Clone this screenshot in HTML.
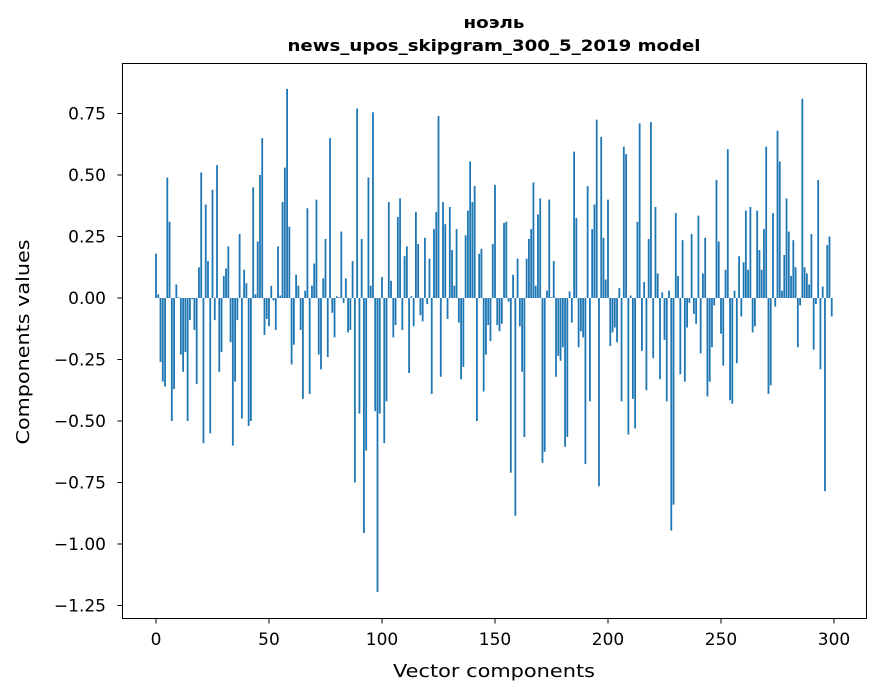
<!DOCTYPE html>
<html><head><meta charset="utf-8">
<style>
html,body{margin:0;padding:0;background:#fff;}
svg{display:block;font-family:"DejaVu Sans","Liberation Sans",sans-serif;}
</style></head>
<body>
<svg id="chart" width="880" height="696" viewBox="0 0 880 696">
  <rect x="0" y="0" width="880" height="696" fill="#fff"/>
  <text x="494" y="28" text-anchor="middle" font-size="16" font-weight="bold" textLength="61" lengthAdjust="spacingAndGlyphs">ноэль</text>
  <text x="494" y="51" text-anchor="middle" font-size="16" font-weight="bold" textLength="413" lengthAdjust="spacingAndGlyphs">news_upos_skipgram_300_5_2019 model</text>
  <g id="bars"></g>
  <g id="xaxis"></g>
  <g id="yaxis"></g>
  <rect x="122.5" y="63.5" width="744" height="555" fill="none" stroke="#000" stroke-width="1"/>
  <text x="494" y="677" text-anchor="middle" font-size="18" textLength="202" lengthAdjust="spacingAndGlyphs">Vector components</text>
  <text x="0" y="0" transform="translate(29,342) rotate(-90)" text-anchor="middle" font-size="18" textLength="205" lengthAdjust="spacingAndGlyphs">Components values</text>
</svg>
<script>
const values = [
0.18,0.015,-0.26,-0.34,-0.36,0.49,0.31,-0.50,-0.37,0.055,
0.003,-0.23,-0.30,-0.22,-0.50,-0.09,-0.005,-0.13,-0.35,0.125,
0.51,-0.59,0.38,0.15,-0.55,0.44,-0.09,0.54,-0.30,-0.22,
0.09,0.12,0.21,-0.18,-0.60,-0.34,-0.09,0.26,-0.49,0.115,
0.06,-0.52,-0.50,0.45,0.015,0.23,0.50,0.65,-0.15,-0.085,
-0.115,0.05,-0.01,-0.13,0.21,0.01,0.39,0.53,0.85,0.29,
-0.27,-0.19,0.095,0.05,-0.13,-0.41,0.03,0.365,-0.39,0.05,
0.14,0.40,-0.23,-0.29,0.08,0.24,-0.24,0.65,-0.06,-0.16,
0.007,0.003,0.27,-0.02,0.08,-0.14,-0.13,0.15,-0.75,0.77,
-0.47,0.24,-0.955,-0.62,0.49,0.05,0.755,-0.46,-1.195,-0.47,
0.085,-0.59,-0.42,0.39,0.07,-0.16,-0.11,0.33,0.405,-0.13,
0.17,0.21,-0.305,0.007,-0.115,0.35,0.22,-0.07,-0.095,0.245,
-0.025,0.16,-0.39,0.28,0.35,0.74,-0.32,0.39,0.30,-0.085,
0.37,0.195,0.05,0.28,-0.10,-0.33,-0.28,0.255,0.355,0.555,
0.39,0.455,-0.50,0.18,0.20,-0.38,-0.23,-0.11,-0.175,0.22,
0.46,-0.11,-0.135,-0.105,0.305,0.31,-0.015,-0.71,0.095,-0.885,
0.16,-0.115,-0.30,-0.565,0.16,0.24,0.28,0.47,0.05,0.34,
0.405,-0.67,-0.625,0.03,0.40,0.003,0.15,-0.32,-0.235,-0.255,
-0.20,-0.605,-0.565,0.027,-0.10,0.595,0.325,-0.20,-0.135,-0.16,
-0.675,0.455,-0.42,0.28,0.38,0.725,-0.765,0.655,0.245,0.075,
0.40,-0.195,-0.14,-0.12,-0.18,0.04,-0.42,0.615,0.585,-0.555,
0.01,-0.41,-0.53,0.31,0.71,-0.215,0.065,-0.375,0.24,0.715,
-0.245,0.37,0.10,-0.33,0.023,-0.17,-0.42,0.03,-0.945,-0.84,
0.345,0.09,-0.31,0.235,-0.34,-0.12,-0.02,0.26,-0.065,-0.105,
0.335,-0.225,0.10,0.245,-0.40,-0.34,-0.20,-0.03,0.48,0.23,
-0.145,-0.275,0.115,0.605,-0.415,-0.43,0.03,-0.265,0.17,-0.075,
0.145,0.355,0.115,0.37,-0.14,-0.115,0.355,0.195,0.115,0.28,
0.615,-0.39,-0.355,0.345,-0.035,0.68,0.555,0.03,0.175,0.405,
0.27,0.09,0.235,0.125,-0.20,-0.03,0.81,0.125,0.10,0.055,
0.26,-0.21,-0.025,0.48,-0.29,0.047,-0.785,0.215,0.25,-0.075
];
const xTicks = [0,50,100,150,200,250,300];
const yTicks = [0.75,0.5,0.25,0,-0.25,-0.5,-0.75,-1.0,-1.25];
const yTickLabels = ["0.75","0.50","0.25","0.00","\u22120.25","\u22120.50","\u22120.75","\u22121.00","\u22121.25"];

const NS = "http://www.w3.org/2000/svg";
function xScale(i){ return 156 + i * 2.26; }
function yScale(v){ return 298 - v * 246; }

const barsG = document.getElementById('bars');
values.forEach(function(v, i){
  const r = document.createElementNS(NS, 'rect');
  const y0 = yScale(0), y1 = yScale(v);
  r.setAttribute('x', xScale(i) - 0.9);
  r.setAttribute('width', 1.8);
  r.setAttribute('y', Math.min(y0, y1));
  r.setAttribute('height', Math.max(Math.abs(y1 - y0), 0.3));
  r.setAttribute('fill', '#1f77b4');
  
  
  barsG.appendChild(r);
});

const xg = document.getElementById('xaxis');
xTicks.forEach(function(t){
  const x = xScale(t);
  const l = document.createElementNS(NS, 'line');
  l.setAttribute('x1', x); l.setAttribute('x2', x);
  l.setAttribute('y1', 618.5); l.setAttribute('y2', 623.5);
  l.setAttribute('stroke', '#000');
  
  
  xg.appendChild(l);
  const tx = document.createElementNS(NS, 'text');
  tx.setAttribute('x', x); tx.setAttribute('y', 645);
  tx.setAttribute('text-anchor', 'middle');
  tx.setAttribute('font-size', '17');
  tx.textContent = String(t);
  
  
  xg.appendChild(tx);
});

const yg = document.getElementById('yaxis');
yTicks.forEach(function(t, k){
  const y = yScale(t);
  const l = document.createElementNS(NS, 'line');
  l.setAttribute('x1', 117.5); l.setAttribute('x2', 122.5);
  l.setAttribute('y1', y); l.setAttribute('y2', y);
  l.setAttribute('stroke', '#000');
  
  
  yg.appendChild(l);
  const tx = document.createElementNS(NS, 'text');
  tx.setAttribute('x', 106); tx.setAttribute('y', y + 6);
  tx.setAttribute('text-anchor', 'end');
  tx.setAttribute('font-size', '17');
  tx.textContent = yTickLabels[k];
  
  
  yg.appendChild(tx);
});
</script>
</body></html>
